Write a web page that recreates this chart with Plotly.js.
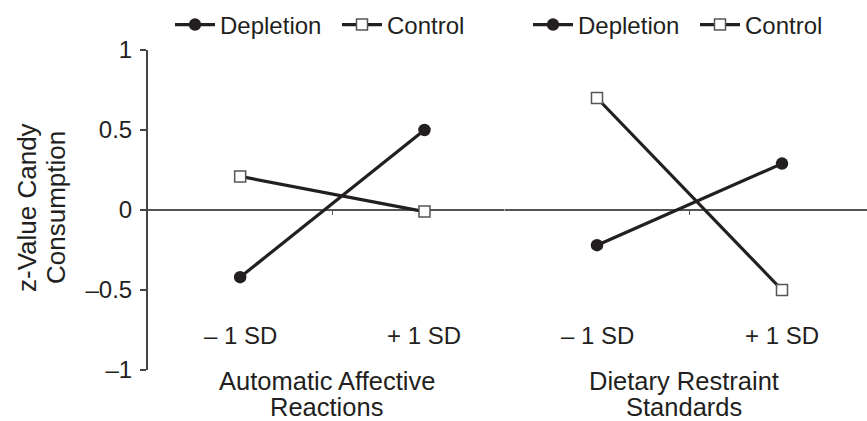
<!DOCTYPE html>
<html>
<head>
<meta charset="utf-8">
<script src="https://cdn.plot.ly/plotly-3.0.1.min.js"></script>
<style>html,body{margin:0;padding:0;background:#fff;}#chart{width:867px;height:421px;}</style>
</head>
<body>
<div id="chart"></div>
<script>
// ---- data ----
var categories = ['\u2013 1 SD', '+ 1 SD'];
var xPos = [0.5, 1.5];
var seriesNames = ['Depletion', 'Control'];
var panelTitles1 = ['Automatic Affective', 'Reactions'];
var panelTitles2 = ['Dietary Restraint', 'Standards'];
var depletionAffective = [-0.42, 0.50];
var controlAffective = [0.21, -0.01];
var depletionRestraint = [-0.22, 0.29];
var controlRestraint = [0.70, -0.50];
var yTickVals = [1, 0.5, 0, -0.5, -1];
var yTickText = ['1', '0.5', '0', '\u20130.5', '\u20131'];
var yTitleLines = ['z-Value Candy', 'Consumption'];

var ink = '#231f20';
var FONT = 'Liberation Sans, Arial, Helvetica, sans-serif';

function depTrace(y, xa, lg) {
  return {x: xPos, y: y, xaxis: xa, yaxis: 'y', type: 'scatter', mode: 'lines+markers',
    name: seriesNames[0], legend: lg, cliponaxis: false,
    line: {color: ink, width: 3.2},
    marker: {symbol: 'circle', size: 12.5, color: ink}};
}
function ctlTrace(y, xa, lg) {
  return {x: xPos, y: y, xaxis: xa, yaxis: 'y', type: 'scatter', mode: 'lines+markers',
    name: seriesNames[1], legend: lg, cliponaxis: false,
    line: {color: ink, width: 3.2},
    marker: {symbol: 'square', size: 11, color: '#ffffff', line: {color: '#555555', width: 1.5}}};
}

var data = [
  ctlTrace(controlAffective, 'x', 'legend'),
  depTrace(depletionAffective, 'x', 'legend'),
  ctlTrace(controlRestraint, 'x2', 'legend2'),
  depTrace(depletionRestraint, 'x2', 'legend2')
];

var W = 719; // plot width in px (148 -> 867)
var d1end = (517 - 148) / W;
var d2start = (504.5 - 148) / W;

var xCommon = {
  anchor: 'free', position: 0.5, showline: false,
  ticks: 'outside', ticklen: 4, tickwidth: 1.5, tickcolor: '#555555',
  showticklabels: false, showgrid: false, zeroline: false, fixedrange: true
};

var annotations = [];
function addLabels(xref) {
  for (var i = 0; i < categories.length; i++) {
    annotations.push({x: xPos[i], y: (370 - 335) / 320, xref: xref, yref: 'paper',
      text: categories[i], showarrow: false, xanchor: 'center', yanchor: 'middle',
      font: {family: FONT, size: 24, color: ink}});
  }
}
function addTitle(xref, lines) {
  var ys = [380.5, 407];
  for (var i = 0; i < lines.length; i++) {
    annotations.push({x: 0.97, y: (370 - ys[i]) / 320, xref: xref, yref: 'paper',
      text: lines[i], showarrow: false, xanchor: 'center', yanchor: 'middle',
      font: {family: FONT, size: 25.5, color: ink}});
  }
}
addLabels('x'); addLabels('x2');
addTitle('x', panelTitles1); addTitle('x2', panelTitles2);
var yTitleX = [27, 56];
for (var j = 0; j < yTitleLines.length; j++) {
  annotations.push({x: (yTitleX[j] - 148) / W, y: (370 - 208) / 320, xref: 'paper', yref: 'paper',
    text: yTitleLines[j], textangle: -90, showarrow: false, xanchor: 'center', yanchor: 'middle',
    font: {family: FONT, size: 26, color: ink}});
}

var legendCommon = {orientation: 'h', yref: 'container', y: 1 - 25 / 421, yanchor: 'middle',
  xref: 'container', xanchor: 'left', bgcolor: 'rgba(0,0,0,0)', traceorder: 'reversed',
  font: {family: FONT, size: 24, color: ink}, itemwidth: 40,
  entrywidth: 112, entrywidthmode: 'pixels'};

var layout = {
  width: 867, height: 421,
  margin: {l: 148, r: 0, t: 50, b: 51},
  paper_bgcolor: '#ffffff', plot_bgcolor: '#ffffff',
  font: {family: FONT, size: 24, color: ink},
  showlegend: true,
  legend: Object.assign({}, legendCommon, {x: 170 / 867}),
  legend2: Object.assign({}, legendCommon, {x: 528 / 867}),
  xaxis: Object.assign({}, xCommon, {domain: [0, d1end], range: [0, 2.002], tickvals: [1, 2]}),
  xaxis2: Object.assign({}, xCommon, {domain: [d2start, 1], range: [0, (867 - 504.5) / 185], tickvals: [1]}),
  yaxis: {domain: [0, 1], range: [-1, 1], anchor: 'x', showline: true, linecolor: '#444444', linewidth: 2,
    ticks: 'outside', ticklen: 6, tickwidth: 2, tickcolor: '#444444',
    tickvals: yTickVals, ticktext: yTickText, ticklabelstandoff: 3,
    tickfont: {family: FONT, size: 24, color: ink},
    showgrid: false, zeroline: true, zerolinecolor: '#555555', zerolinewidth: 2.2, fixedrange: true},
  annotations: annotations
};

Plotly.newPlot('chart', data, layout, {displayModeBar: false, staticPlot: true});
</script>
</body>
</html>
